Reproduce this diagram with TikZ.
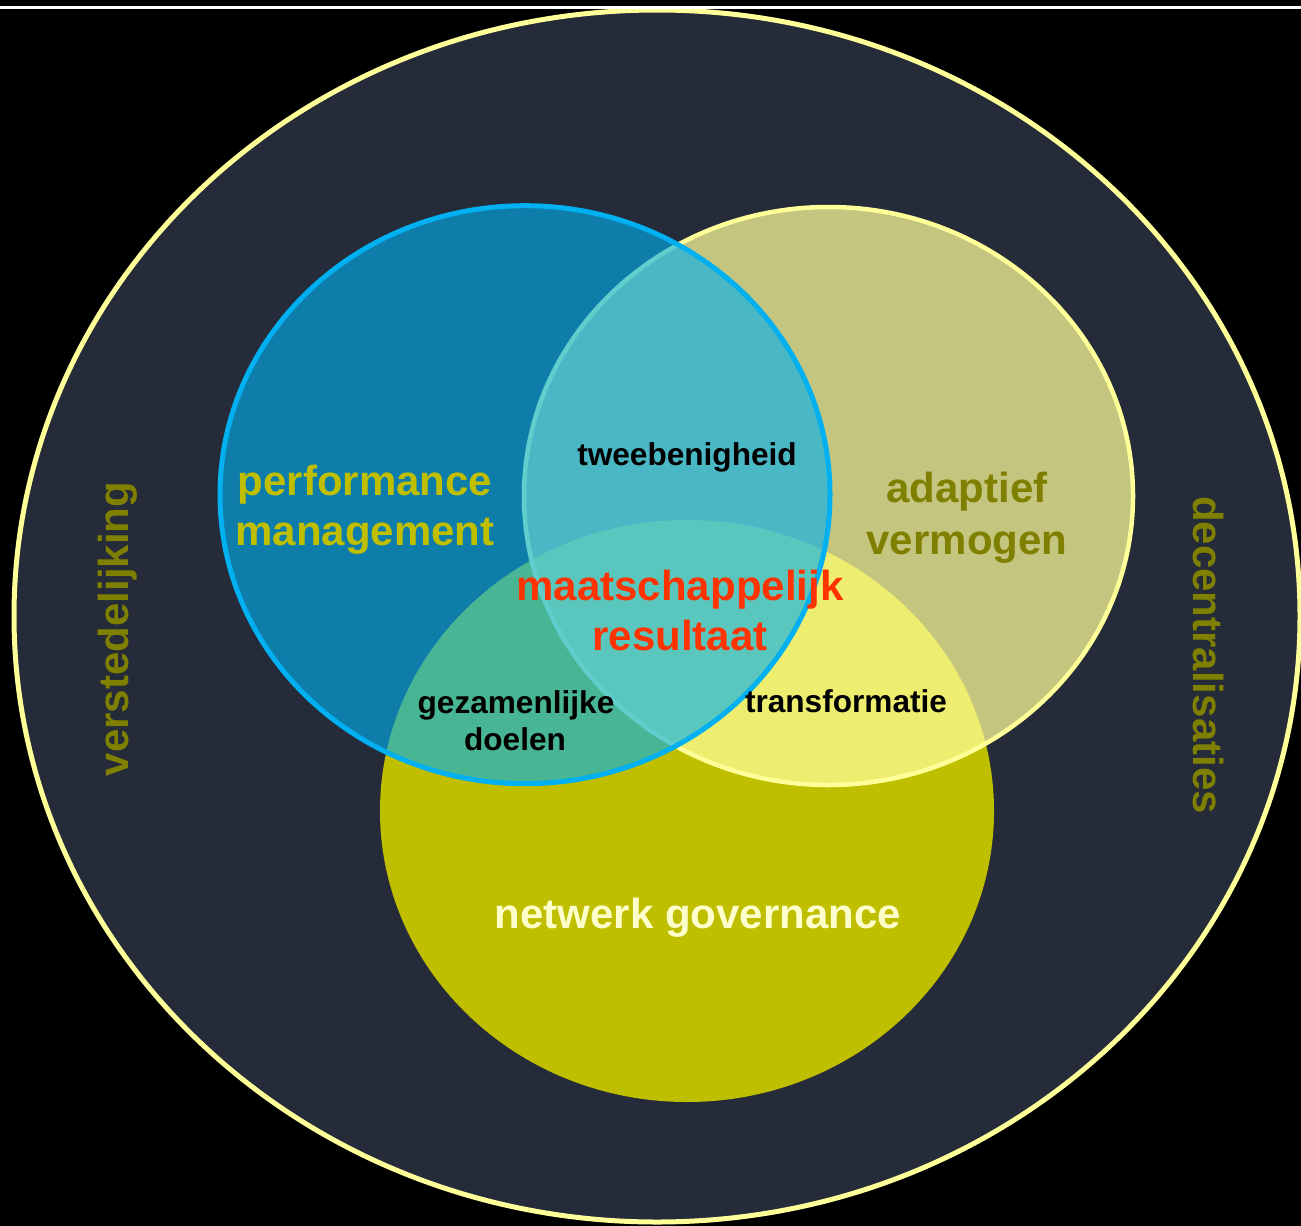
\documentclass[tikz,border=0pt]{standalone}
\usepackage{fontspec}
\setmainfont{Liberation Sans}
\definecolor{navy}{HTML}{252B38}
\definecolor{ylight}{HTML}{FFFF99}
\definecolor{yfill}{HTML}{BFBF00}
\definecolor{cyanb}{HTML}{00B0F0}
\definecolor{olive}{HTML}{808000}
\definecolor{redt}{HTML}{FF3300}
\definecolor{cream}{HTML}{FFFFCC}
\begin{document}
\begin{tikzpicture}[x=1pt,y=-1pt,
  big/.style={font=\bfseries\fontsize{42}{50}\selectfont, anchor=base, inner sep=0pt},
  small/.style={font=\bfseries\fontsize{31.6}{37}\selectfont, anchor=base, inner sep=0pt, text=black}]
\fill[black] (0,0) rectangle (1301,1226);
\useasboundingbox (0,0) rectangle (1301,1226);
% outer ellipse
\draw[fill=navy, draw=ylight, line width=5pt] (657,616) ellipse [x radius=643pt, y radius=606pt];
\draw[white, line width=3pt] (0,7.5) -- (1301,7.5);
% bottom yellow
\fill[yfill] (687,811) ellipse [x radius=307pt, y radius=291pt];
% khaki circle
\draw[fill=ylight, fill opacity=0.73, draw=ylight, line width=4.5pt] (828.5,496) ellipse [x radius=304.5pt, y radius=289pt];
% blue circle
\draw[fill=cyanb, fill opacity=0.62, draw=cyanb, line width=5pt] (525,494.7) ellipse [x radius=305pt, y radius=289pt];
% texts
\node[big, text=yfill] (pm1) at (365,495) {performance};
\node[big, text=yfill] (pm2) at (365,545) {management};
\node[big, text=olive] (av1) at (967,502) {adaptief};
\node[big, text=olive] (av2) at (967,554) {vermogen};
\node[big, text=redt] (mr1) at (680,600) {maatschappelijk};
\node[big, text=redt] (mr2) at (680,650) {resultaat};
\node[big, text=cream] (ng) at (698,928) {netwerk governance};
\node[small] (tw) at (687,465) {tweebenigheid};
\node[small] (gd1) at (516,713) {gezamenlijke};
\node[small] (gd2) at (515,750) {doelen};
\node[small] (tr) at (846,712) {transformatie};
\node[big, text=olive, rotate=90] (vs) at (128,629) {verstedelijking};
\node[big, text=olive, rotate=-90] (dc) at (1193,655) {decentralisaties};
\end{tikzpicture}
\end{document}
